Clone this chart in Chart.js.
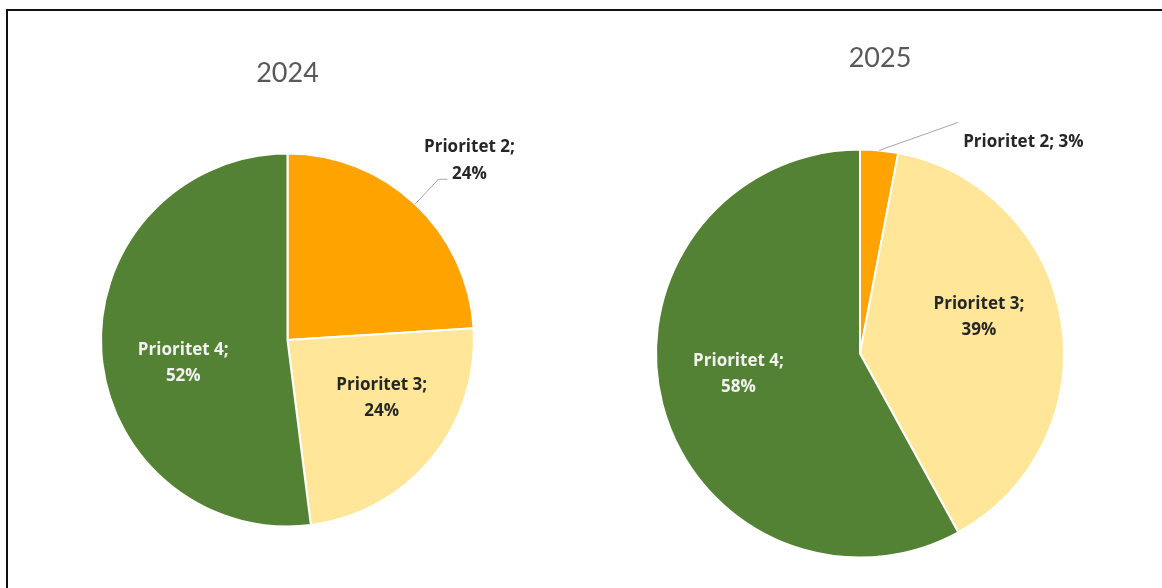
<!DOCTYPE html>
<html>
<head>
<meta charset="utf-8">
<script src="https://cdn.jsdelivr.net/npm/chart.js@4/dist/chart.umd.min.js"></script>
<style>
  html, body { margin:0; padding:0; background:#fff; }
  body { width:1162px; height:588px; position:relative; overflow:hidden; }
  #frame { position:absolute; left:6px; top:9px; width:1156px; height:579px;
           border-top:2px solid #111; border-left:2px solid #111; box-sizing:border-box; }
  .wrap { position:absolute; top:0; height:588px; }
  #w1 { left:0; width:580px; }
  #w2 { left:580px; width:582px; }
</style>
</head>
<body>
<div id="frame"></div>
<div class="wrap" id="w1"><canvas id="c1"></canvas></div>
<div class="wrap" id="w2"><canvas id="c2"></canvas></div>
<script>
// ---- data ----
const categories = ['Prioritet 2', 'Prioritet 3', 'Prioritet 4'];
const values2024 = [24, 24, 52];
const values2025 = [3, 39, 58];
const years = ['2024', '2025'];

// ---- styles ----
const sliceColors = ['#FFA300', '#FFE699', '#548235'];
const labelColors = ['#262626', '#262626', '#F2F2F2'];
const TITLE_FONT = 'Lato, "Open Sans", sans-serif';
const LABEL_FONT = '"Open Sans", Lato, sans-serif';

const sliceLabels = {
  id: 'sliceLabels',
  afterDraw(chart, args, opts) {
    const ctx = chart.ctx;
    const meta = chart.getDatasetMeta(0);
    const ds = chart.data.datasets[0];
    let cx = 0, cy = 0, R = 0;
    ctx.save();
    meta.data.forEach((arc, i) => {
      const p = arc.getProps(['x', 'y', 'startAngle', 'endAngle', 'outerRadius'], true);
      cx = p.x; cy = p.y; R = p.outerRadius;
      const mid = (p.startAngle + p.endAngle) / 2;
      const c = Math.cos(mid), s = Math.sin(mid);
      const pl = opts.place[i];
      const name = chart.data.labels[i] + ';';
      const pct = ds.data[i] + '%';
      ctx.font = 'bold 17px ' + LABEL_FONT;
      ctx.fillStyle = labelColors[i];
      ctx.textBaseline = 'middle';
      if (pl.type === 'inside') {
        const x = p.x + c * R * pl.frac + pl.dx;
        const y = p.y + s * R * pl.frac + pl.dy;
        ctx.textAlign = 'center';
        ctx.fillText(name, x, y - 13);
        ctx.fillText(pct, x, y + 13);
      } else {
        const x0 = p.x + c * R, y0 = p.y + s * R;
        let x1, y1;
        if (pl.radial) { x1 = p.x + c * (R + pl.radial); y1 = p.y + s * (R + pl.radial); }
        else { x1 = x0 + pl.lx; y1 = y0 + pl.ly; }
        ctx.strokeStyle = '#A6A6A6';
        ctx.lineWidth = 1;
        ctx.beginPath();
        ctx.moveTo(x0, y0);
        ctx.lineTo(x1, y1);
        if (pl.tail) ctx.lineTo(x1 + pl.tail, y1);
        ctx.stroke();
        ctx.fillStyle = '#262626';
        if (pl.twoLine) {
          ctx.textAlign = 'center';
          ctx.fillText(name, x1 + pl.tx, y1 + pl.ty - 27);
          ctx.fillText(pct, x1 + pl.tx, y1 + pl.ty);
        } else {
          ctx.textAlign = 'left';
          ctx.fillText(name + ' ' + pct, x1 + pl.tx, y1 + pl.ty);
        }
      }
    });
    // title
    ctx.font = '27px ' + TITLE_FONT;
    ctx.fillStyle = '#595959';
    ctx.textAlign = 'center';
    ctx.textBaseline = 'middle';
    ctx.fillText(opts.title, cx + opts.titleDx, opts.titleY);
    ctx.restore();
  }
};

function makePie(id, values, year, padding, place, titleY, titleDx) {
  return new Chart(document.getElementById(id), {
    type: 'pie',
    data: {
      labels: categories,
      datasets: [{
        data: values,
        backgroundColor: sliceColors,
        borderColor: '#FFFFFF',
        borderWidth: 2,
        hoverOffset: 0
      }]
    },
    options: {
      responsive: true,
      maintainAspectRatio: false,
      animation: false,
      layout: { padding: padding },
      plugins: {
        legend: { display: false },
        tooltip: { enabled: false },
        title: { display: false },
        sliceLabels: { place: place, title: year, titleY: titleY, titleDx: titleDx }
      }
    },
    plugins: [sliceLabels]
  });
}

makePie('c1', values2024, years[0],
  { left: 100, right: 105, top: 152, bottom: 60 },
  [
    { type: 'outside', radial: 34, tail: 9, twoLine: true, tx: 31, ty: -5 },
    { type: 'inside', frac: 0.6, dx: 8, dy: -13 },
    { type: 'inside', frac: 0.56, dx: 0, dy: 17 }
  ], 73, 0);

makePie('c2', values2025, years[1],
  { left: 75, right: 97, top: 147, bottom: 28 },
  [
    { type: 'outside', lx: 79, ly: -28, twoLine: false, tx: 5, ty: 20 },
    { type: 'inside', frac: 0.6, dx: -2, dy: -17 },
    { type: 'inside', frac: 0.6, dx: -3, dy: -10 }
  ], 58, 20);
</script>
</body>
</html>
